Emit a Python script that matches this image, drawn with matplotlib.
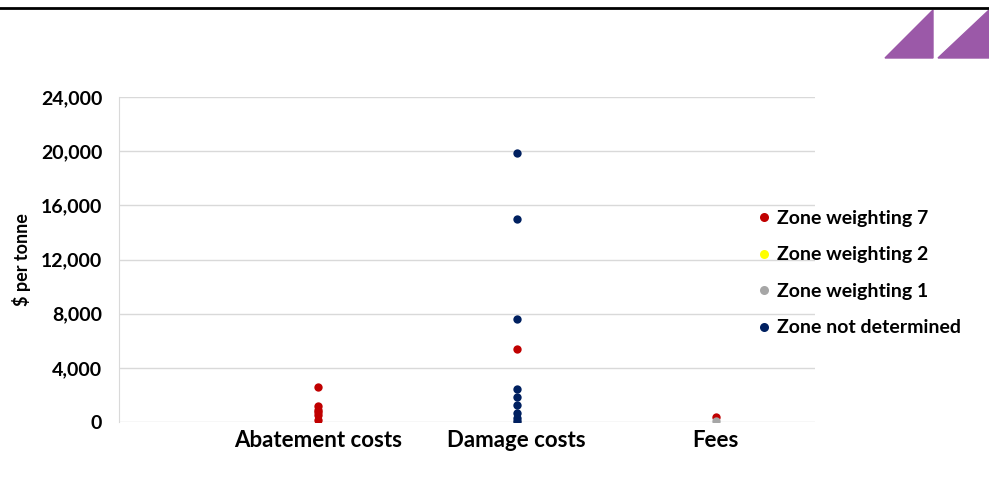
import matplotlib.pyplot as plt
from matplotlib.patches import Polygon
from matplotlib.lines import Line2D

# 카테고리와 값
categories = ['Abatement costs', 'Damage costs', 'Fees']
yticks = [0, 4000, 8000, 12000, 16000, 20000, 24000]

series_names = ['Zone weighting 7', 'Zone weighting 2', 'Zone weighting 1', 'Zone not determined']
series_colors = ['#C00000', '#FFFF00', '#A6A6A6', '#002060']

# (category index, value)
zone7_cat = [1, 1, 1, 1, 1, 1, 2, 3]
zone7_val = [2600, 1200, 900, 750, 500, 150, 5400, 400]
zone2_cat = []
zone2_val = []
zone1_cat = [2, 3]
zone1_val = [30, 100]
zone_nd_cat = [2, 2, 2, 2, 2, 2, 2, 2, 2]
zone_nd_val = [19900, 15000, 7600, 2450, 1850, 1250, 650, 300, 50]

plt.rcParams['font.family'] = ['Lato', 'DejaVu Sans']
plt.rcParams['font.weight'] = 'bold'

fig = plt.figure(figsize=(9.89, 4.91), dpi=100)
ax = fig.add_axes([0.1203, 0.1405, 0.7038, 0.6619])

data = [(zone7_cat, zone7_val), (zone2_cat, zone2_val), (zone1_cat, zone1_val), (zone_nd_cat, zone_nd_val)]
for (xs, ys), name, c in zip(data, series_names, series_colors):
    ax.scatter(xs, ys, s=36, color=c, label=name, zorder=3, linewidths=0)

ax.set_xlim(0, 3.5)
ax.set_ylim(0, 24000)
ax.set_yticks(yticks)
ax.set_yticklabels([f'{v:,}' for v in yticks], fontsize=14, fontweight='bold')
ax.set_xticks([1, 2, 3])
ax.set_xticklabels(categories, fontsize=16, fontweight='bold')
ax.tick_params(axis='both', length=0)
ax.tick_params(axis='y', pad=12)
ax.tick_params(axis='x', pad=6)
ax.set_ylabel('$ per tonne', fontsize=13, fontweight='bold')
ax.yaxis.set_label_coords(-0.127, 0.5)
ax.grid(axis='y', color='#D9D9D9', linewidth=1)
ax.set_axisbelow(True)
for s in ['top', 'right', 'bottom']:
    ax.spines[s].set_visible(False)
ax.spines['left'].set_color('#D9D9D9')

handles = [Line2D([], [], marker='o', linestyle='', markersize=6.5, markerfacecolor=c,
                  markeredgewidth=0) for c in series_colors]
fig.legend(handles, series_names, loc='upper left', bbox_to_anchor=(0.758, 0.592),
           frameon=False, prop={'weight': 'bold', 'size': 14},
           handlelength=0.5, handletextpad=0.4, labelspacing=1.0, borderpad=0)

# 상단 선과 보라색 삼각형
fig.add_artist(Line2D([0, 1], [1 - 8 / 491, 1 - 8 / 491], color='black', linewidth=2,
                      transform=fig.transFigure))
W, H = 989, 491
tri1 = [(885 / W, 1 - 58 / H), (933 / W, 1 - 10 / H), (933 / W, 1 - 58 / H)]
tri2 = [(938 / W, 1 - 58 / H), (989 / W, 1 - 10 / H), (989 / W, 1 - 58 / H)]
for t in (tri1, tri2):
    fig.add_artist(Polygon(t, closed=True, color='#9B59A8', transform=fig.transFigure))

plt.savefig('out.png', dpi=100)
